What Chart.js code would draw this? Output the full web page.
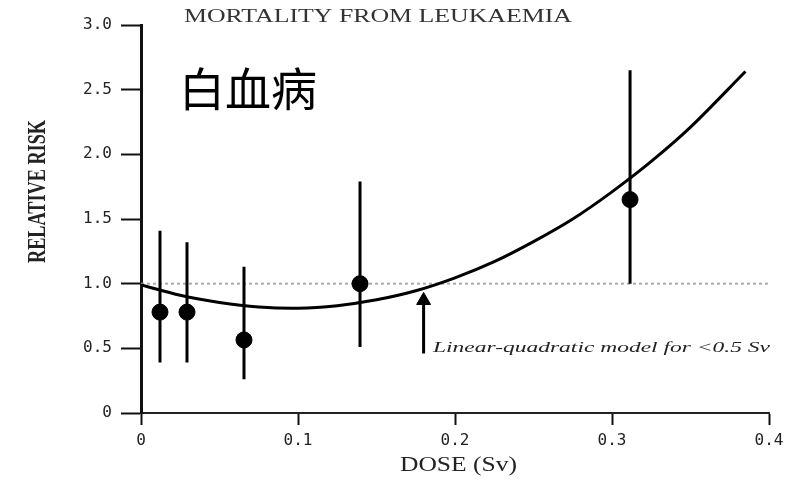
<!DOCTYPE html>
<html>
<head>
<meta charset="utf-8">
<script src="https://cdn.jsdelivr.net/npm/chart.js@4.4.0/dist/chart.umd.min.js"></script>
<style>
    html, body { margin: 0; padding: 0; background: #fff; }
    #wrap { width: 808px; height: 482px; }
</style>
</head>
<body>
<div id="wrap"><canvas id="chart"></canvas></div>
<script>
// observed groups (dose in Sv, relative risk and its range)
var doses = [0.0121, 0.0293, 0.0656, 0.1395, 0.3115];
var relRisk = [0.78, 0.78, 0.565, 1.00, 1.65];
var riskLow = [0.39, 0.39, 0.26, 0.51, 1.00];
var riskHigh = [1.41, 1.32, 1.13, 1.79, 2.65];

// group plotted with a triangle
var triDose = [0.180];
var triRisk = [0.87];
var triLow = [0.46];

// fitted linear-quadratic curve
var curveDose = [0, 0.025, 0.05, 0.075, 0.1, 0.125, 0.15, 0.175, 0.2, 0.225, 0.25, 0.275, 0.3, 0.325, 0.35, 0.385];
var curveRisk = [0.99, 0.91, 0.855, 0.82, 0.81, 0.83, 0.875, 0.945, 1.045, 1.17, 1.325, 1.50, 1.71, 1.945, 2.21, 2.64];

// reference line at RR = 1
var refDose = [0, 0.4];
var refRisk = [1.0, 1.0];

var xTicks = [0, 0.1, 0.2, 0.3, 0.4];
var yTicks = [0, 0.5, 1.0, 1.5, 2.0, 2.5, 3.0];

let toPoints = function (xs, ys) {
    var pts = [];
    for (let i = 0; i < xs.length; i++) {
        pts.push({ x: xs[i], y: ys[i] });
    }
    return pts;
}

// vertical bars, separated by gaps
var barPoints = [];
for (let i = 0; i < doses.length; i++) {
    barPoints.push({ x: doses[i], y: riskLow[i] });
    barPoints.push({ x: doses[i], y: riskHigh[i] });
    barPoints.push({ x: doses[i], y: null });
}
for (let i = 0; i < triDose.length; i++) {
    barPoints.push({ x: triDose[i], y: triLow[i] });
    barPoints.push({ x: triDose[i], y: triRisk[i] });
    barPoints.push({ x: triDose[i], y: null });
}

// draw a string stretched to a given width
let drawFitted = function (ctx, text, x, y, width, font, color) {
    ctx.save();
    ctx.font = font;
    ctx.fillStyle = color;
    ctx.textAlign = 'left';
    ctx.textBaseline = 'middle';
    let natural = ctx.measureText(text).width;
    ctx.translate(x, y);
    ctx.scale(width / natural, 1);
    ctx.fillText(text, 0, 0);
    ctx.restore();
}

var textPlugin = {
    id: 'figureText',
    afterDraw: function (chart) {
        let ctx = chart.ctx;
        drawFitted(ctx, 'MORTALITY FROM LEUKAEMIA', 184, 17, 388, '19px "Liberation Serif"', '#333');
        drawFitted(ctx, 'DOSE (Sv)', 400, 466, 117, '20px "Liberation Serif"', '#222');
        drawFitted(ctx, 'Linear-quadratic model for <0.5 Sv', 433, 348, 337, 'italic 14px "Liberation Serif"', '#222');

        ctx.save();
        ctx.translate(39, 263);
        ctx.rotate(-Math.PI / 2);
        drawFitted(ctx, 'RELATIVE RISK', 0, 0, 143, 'bold 25px "Liberation Serif"', '#222');
        ctx.restore();

        ctx.save();
        ctx.font = '46px "Noto Sans CJK SC"';
        ctx.fillStyle = '#000';
        ctx.textBaseline = 'middle';
        ctx.fillText('白血病', 179, 89);
        ctx.restore();
    }
};

var ctx = document.getElementById('chart');
new Chart(ctx, {
    type: 'scatter',
    data: {
        datasets: [{
            label: 'groups',
            data: toPoints(doses, relRisk),
            pointStyle: 'circle',
            pointRadius: 8,
            backgroundColor: '#000',
            borderColor: '#000',
            showLine: false
        }, {
            label: 'triangle group',
            data: toPoints(triDose, triRisk),
            pointStyle: 'triangle',
            pointRadius: 8,
            backgroundColor: '#000',
            borderColor: '#000',
            showLine: false
        }, {
            label: 'model',
            data: toPoints(curveDose, curveRisk),
            showLine: true,
            borderColor: '#000',
            borderWidth: 3,
            tension: 0.3,
            pointRadius: 0
        }, {
            label: 'range',
            data: barPoints,
            showLine: true,
            spanGaps: false,
            borderColor: '#000',
            borderWidth: 3,
            pointRadius: 0
        }, {
            label: 'reference',
            data: toPoints(refDose, refRisk),
            showLine: true,
            borderColor: '#aaa',
            borderWidth: 2,
            borderDash: [3, 3],
            pointRadius: 0
        }]
    },
    options: {
        responsive: true,
        maintainAspectRatio: false,
        animation: false,
        layout: {
            padding: { top: 25, right: 39, left: 0, bottom: 0 }
        },
        plugins: {
            legend: { display: false },
            tooltip: { enabled: false }
        },
        scales: {
            x: {
                type: 'linear',
                min: 0,
                max: 0.4,
                afterBuildTicks: function (scale) {
                    scale.ticks = xTicks.map(function (v) { return { value: v }; });
                },
                afterFit: function (scale) {
                    scale.height = 69;
                },
                ticks: {
                    padding: 6,
                    color: '#222',
                    font: { family: '"DejaVu Sans Mono"', size: 16 },
                    maxRotation: 0,
                    callback: function (v) { return v === 0 ? '0' : v.toFixed(1); }
                },
                grid: {
                    drawOnChartArea: false,
                    drawTicks: true,
                    tickLength: 12,
                    tickWidth: 2,
                    tickColor: '#111'
                },
                border: { color: '#222', width: 2 }
            },
            y: {
                type: 'linear',
                min: 0,
                max: 3,
                afterBuildTicks: function (scale) {
                    scale.ticks = yTicks.map(function (v) { return { value: v }; });
                },
                afterFit: function (scale) {
                    scale.width = 141;
                },
                ticks: {
                    padding: 9,
                    color: '#222',
                    font: { family: '"DejaVu Sans Mono"', size: 16 },
                    callback: function (v) { return v === 0 ? '0' : v.toFixed(1); }
                },
                grid: {
                    drawOnChartArea: false,
                    drawTicks: true,
                    tickLength: 20,
                    tickWidth: 2,
                    tickColor: '#111'
                },
                border: { color: '#111', width: 3 }
            }
        }
    },
    plugins: [textPlugin]
});
</script>
</body>
</html>
